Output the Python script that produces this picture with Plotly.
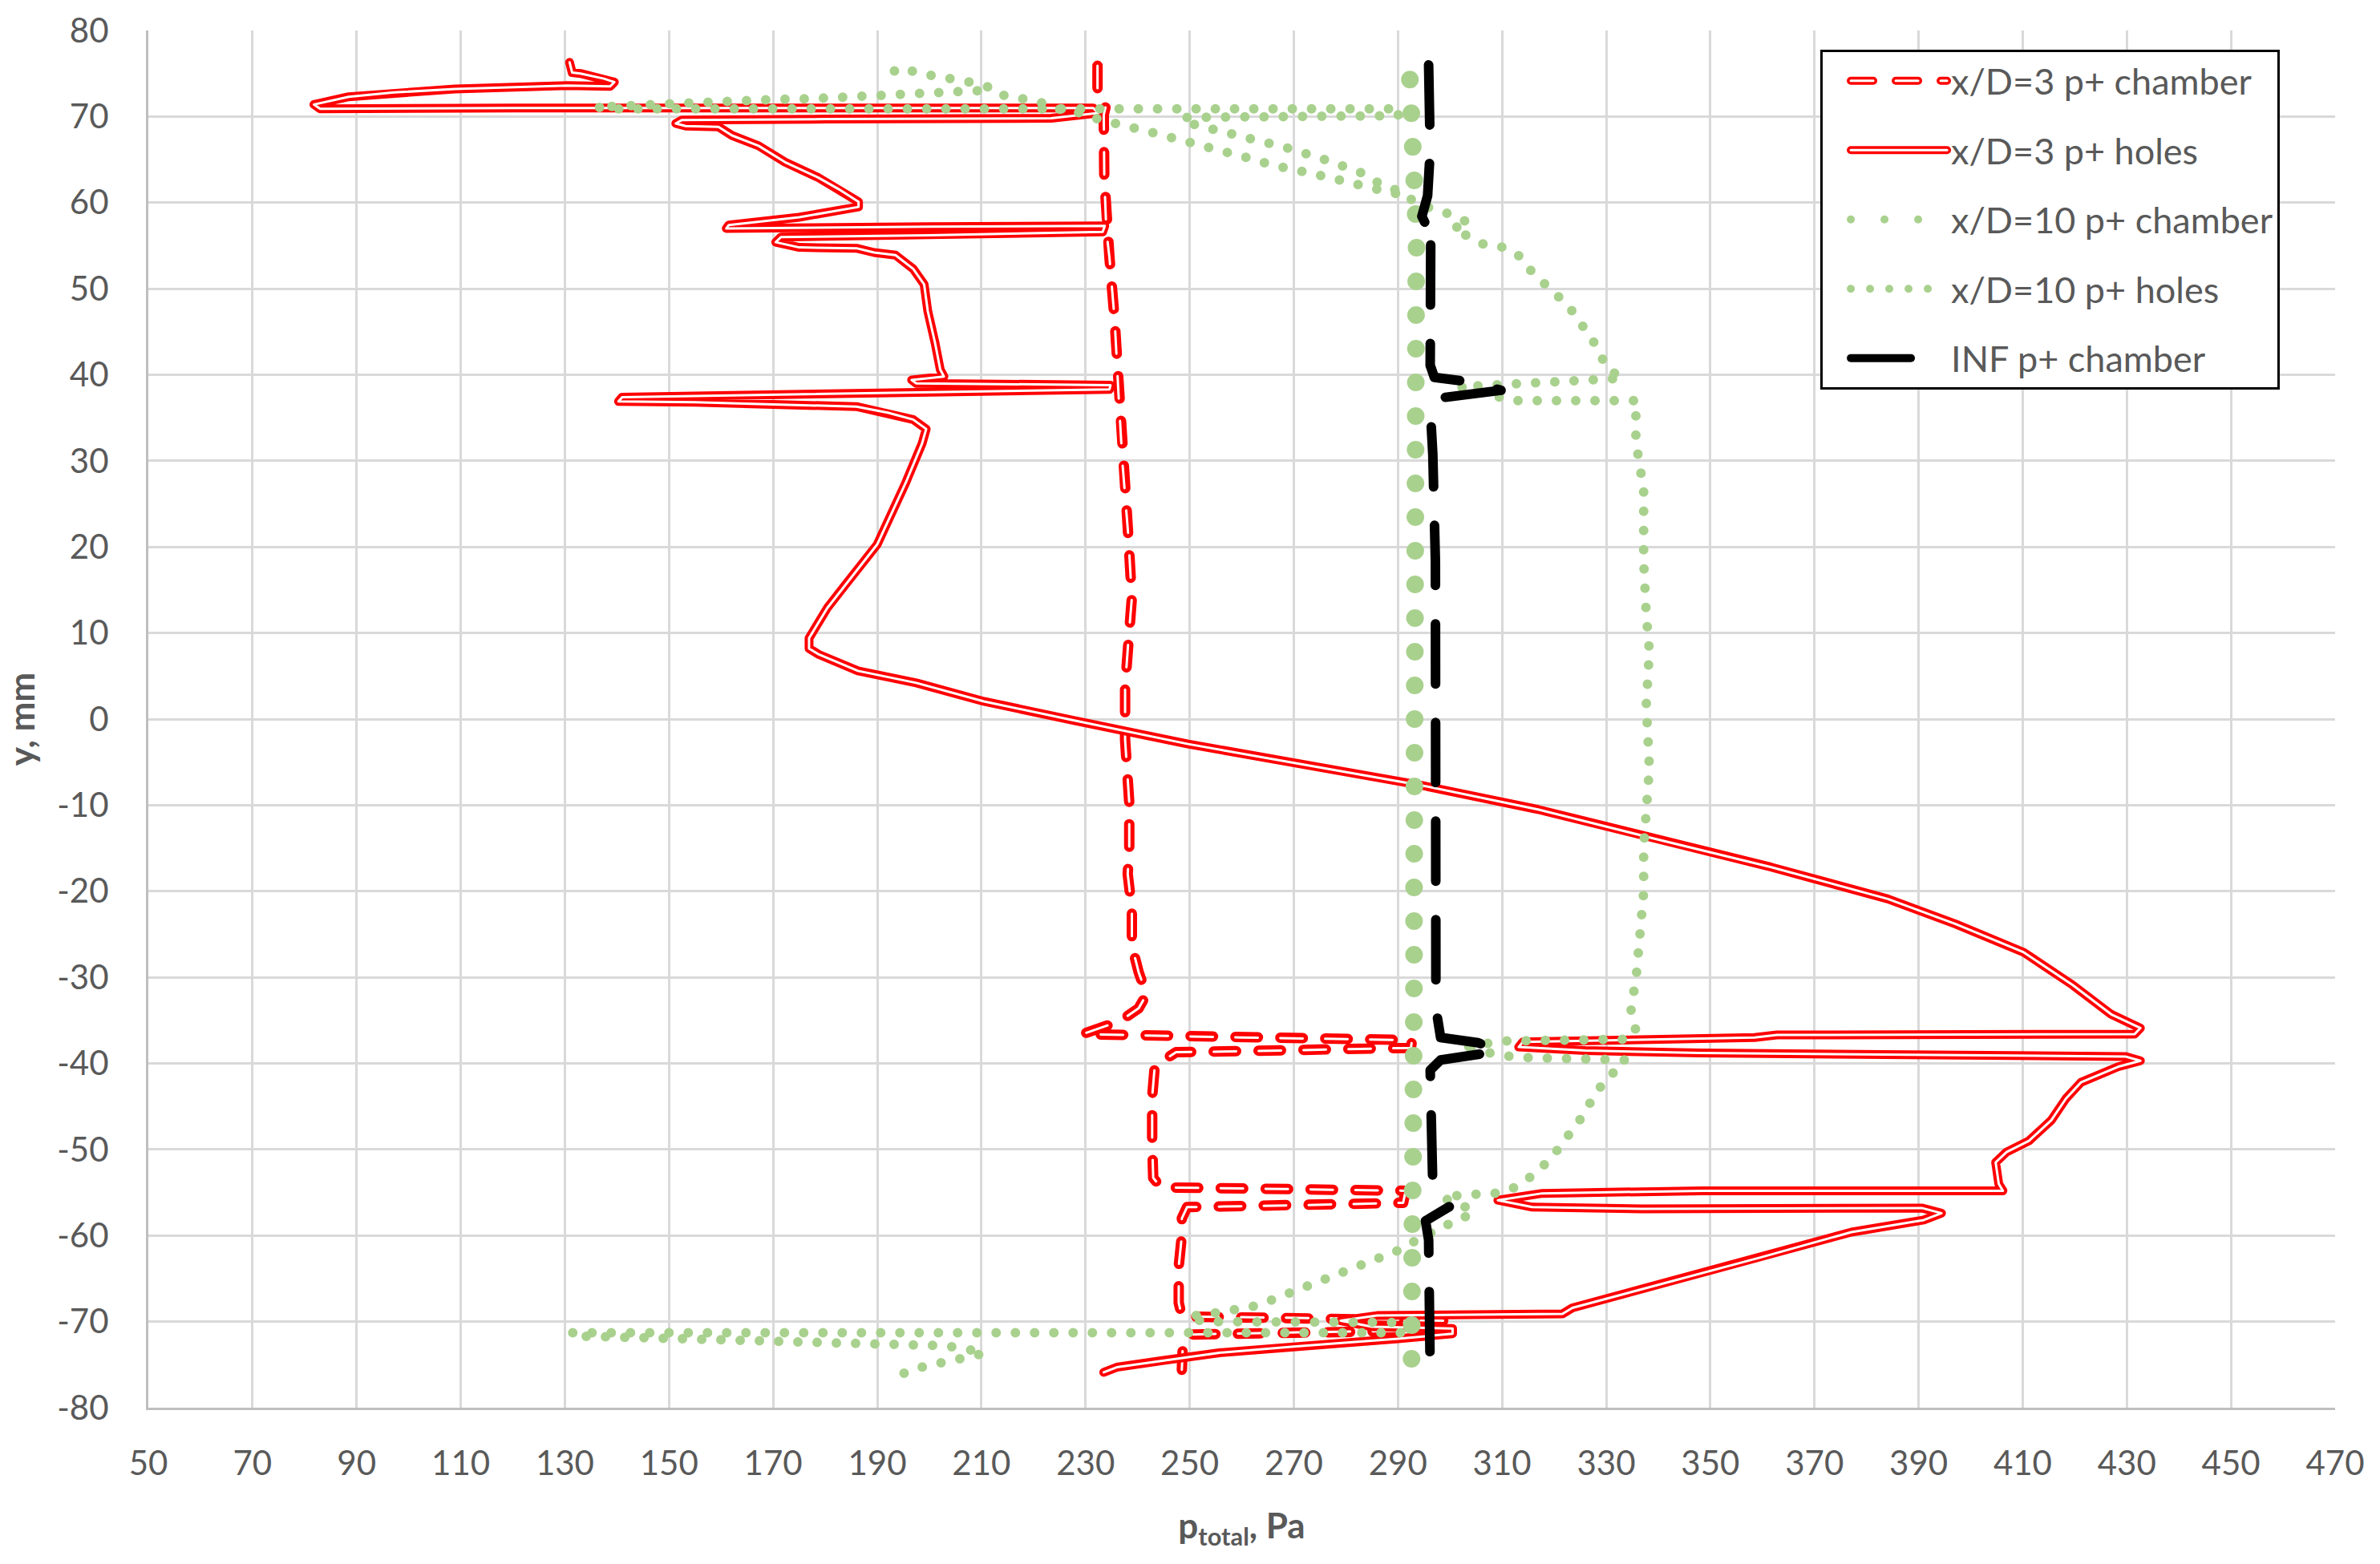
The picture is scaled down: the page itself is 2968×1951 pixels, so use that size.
import plotly.graph_objects as go

# ---- data ----
# x/D=3 p+ chamber (red dashed double line)
ch3_x = [232.3, 232.3, 234.0, 233.5, 233.6, 234.0, 234.6, 235.6, 236.4, 237.1, 238.2, 238.9, 238.2,
         237.6, 237.6, 238.4, 238.4, 238.1, 238.9, 238.9, 240.2, 241.7, 240.2, 236.6, 229.4, 260.0,
         292.7, 292.5, 260.0, 247.4, 243.3, 242.8, 242.8, 243.0, 244.5, 270.0, 291.5, 291.0, 270.0,
         249.5, 248.5, 248.5, 247.9, 247.9, 248.5, 275.0, 299.0, 300.0, 275.0, 250.0, 248.7, 248.5]
ch3_y = [75.9, 72.8, 71.5, 70.2, 62.9, 56.7, 53.6, 46.3, 37.0, 29.7, 21.4, 14.1, 8.9,
         3.8, -2.4, -9.7, -14.9, -18.0, -22.1, -26.3, -29.4, -32.0, -33.6, -35.1, -36.6, -37.0,
         -37.3, -38.2, -38.6, -38.7, -40.3, -43.9, -49.1, -53.3, -54.4, -54.6, -54.8, -56.2, -56.5,
         -56.7, -58.0, -60.0, -63.6, -67.8, -69.4, -69.6, -69.9, -71.0, -71.2, -71.5, -72.5, -75.6]

# x/D=3 p+ holes (red double line)
h3_x = [130.9, 131.4, 133.0, 137.5, 139.5, 138.7, 130.5, 108.9, 97.2, 88.5, 81.8, 83.0, 120.0,
        180.0, 231.5, 232.4, 223.4, 180.0, 152.5, 151.3, 153.2, 159.5, 162.1, 167.2, 172.3, 178.7,
        182.5, 186.4, 186.4, 175.0, 161.5, 161.0, 200.0, 233.7, 233.3, 200.0, 171.5, 170.5, 175.0,
        186.0, 189.4, 193.5, 196.9, 199.0, 199.7, 201.1, 202.1, 202.8, 196.6, 197.5, 234.8, 234.6,
        180.0, 141.0, 140.3, 155.0, 186.0, 192.0, 196.9, 199.4, 198.6, 195.5, 190.0, 184.4, 180.4,
        176.9, 176.9, 178.8, 186.3, 197.5, 210.5, 227.3, 249.7, 272.1, 294.5, 316.9, 339.3, 361.7,
        384.1, 397.1, 410.2, 419.6, 427.0, 432.6, 431.5, 362.8, 358.5, 314.0, 313.2, 326.0, 348.0,
        429.7, 432.6, 428.3, 421.2, 418.3, 415.5, 411.2, 406.9, 404.8, 405.4, 406.2, 348.5, 317.7,
        309.2, 315.8, 336.9, 390.6, 394.4, 391.0, 377.1, 359.9, 340.8, 323.5, 321.6, 300.0, 286.0,
        279.0, 285.0, 300.5, 300.5, 290.0, 270.0, 256.0, 245.0, 236.0, 233.5]
h3_y = [76.3, 75.1, 75.0, 74.4, 74.0, 73.5, 73.6, 73.2, 72.8, 72.3, 71.4, 70.9, 71.0,
        71.0, 71.0, 70.4, 69.8, 69.7, 69.6, 69.2, 68.9, 68.8, 67.8, 66.6, 64.7, 62.9,
        61.6, 60.1, 59.5, 58.3, 57.4, 57.0, 57.2, 57.3, 56.6, 56.2, 56.0, 55.4, 54.8,
        54.7, 54.2, 53.9, 52.3, 50.5, 47.4, 43.7, 40.6, 39.8, 39.4, 39.0, 38.8, 38.3,
        37.8, 37.4, 36.9, 36.8, 36.3, 35.6, 34.8, 33.7, 32.0, 27.5, 20.3, 16.0, 12.9,
        9.4, 8.2, 7.5, 5.6, 4.2, 2.05, -0.1, -2.9, -5.3, -7.7, -10.5, -13.9, -17.2,
        -20.9, -23.8, -27.1, -30.9, -34.3, -35.9, -36.6, -36.7, -37.0, -37.5, -38.1, -38.5, -38.8,
        -39.2, -39.7, -40.4, -42.2, -44.1, -46.6, -49.0, -50.3, -51.5, -54.0, -54.8, -54.8, -55.1,
        -55.9, -56.7, -56.9, -56.8, -57.4, -58.2, -59.6, -62.5, -65.6, -68.4, -69.1, -69.2, -69.3,
        -69.9, -70.6, -70.8, -71.4, -72.0, -72.9, -73.6, -74.5, -75.3, -75.9]

# x/D=10 p+ chamber (large green dots)
ch10_x = [292.3, 292.5, 292.8, 292.9, 293.0, 293.3, 293.6, 293.5, 293.4, 293.6, 293.7, 293.5, 293.4,
          293.4, 293.3, 293.2, 293.2, 293.1, 293.1, 293.2, 293.5, 293.2, 293.0, 292.9, 292.8, 292.6,
          292.5, 292.6, 292.6, 292.6]
ch10_y = [74.3, 72.0, 70.0, 66.0, 62.0, 58.0, 56.0, 50.0, 44.0, 40.0, 38.0, 34.0, 28.0,
          20.0, 10.0, 0.0, -10.0, -20.0, -30.0, -36.0, -38.0, -40.0, -46.0, -52.0, -56.0, -60.0,
          -66.0, -70.0, -72.0, -76.5]

# x/D=10 p+ holes (small green dots); None splits the two strokes
h10_x = [193.3, 195.0, 197.4, 200.8, 204.2, 208.7, 212.1, 213.2, 216.6, 221.1, 224.5, 228.5, 232.4,
         235.8, 239.7, 243.7, 247.1, 251.1, 254.4, 258.4, 261.8, 265.7, 269.1, 277.0, 284.9, 291.5,
         None,
         209.2, 201.3, 194.0, 186.1, 178.2, 171.2, 162.9, 154.4, 143.8, 136.0, 140.0, 180.0, 233.5,
         260.0, 290.6, 290.0, 270.0, 248.8, 248.8, 254.5, 261.8, 269.1, 276.5, 279.8, 283.3, 286.7,
         290.0, 294.0, 296.9, 300.3, 303.8, 300.5, 306.7, 310.5, 313.8, 315.2, 317.5, 319.5, 322.3,
         323.9, 325.9, 328.5, 330.0, 333.1, 316.0, 302.0, 312.0, 336.0, 335.7, 335.7, 337.2, 337.2,
         337.7, 338.3, 337.7, 338.3, 337.7, 337.2, 337.2, 336.7, 336.2, 335.7, 334.7, 335.7, 334.2,
         310.0, 302.0, 312.6, 333.6, 333.0, 330.5, 328.0, 324.9, 322.3, 320.7, 319.2, 315.2, 312.1,
         308.0, 303.4, 298.6, 303.4, 304.4, 301.5, 298.6, 294.8, 290.6, 283.5, 277.6, 269.9, 263.2,
         256.0, 249.8, 252.6, 270.0, 291.0, 292.9, 250.0, 200.0, 150.0, 131.0, 133.9, 155.0, 174.2,
         189.4, 202.8, 206.6, 210.5, 206.0, 202.8, 199.0, 195.2, 193.3]
h10_y = [75.3, 75.7, 75.1, 74.8, 74.4, 73.9, 73.3, 72.6, 72.2, 71.7, 70.9, 70.5, 69.7,
         69.1, 68.6, 68.0, 67.5, 66.9, 66.3, 65.7, 65.1, 64.4, 64.0, 62.9, 61.7, 60.8,
         None,
         73.0, 72.7, 72.5, 72.3, 72.1, 72.0, 71.9, 71.6, 71.3, 71.1, 70.9, 70.9, 70.9,
         70.9, 70.9, 70.1, 70.0, 69.9, 69.4, 68.6, 67.5, 66.3, 64.9, 64.3, 63.4, 62.1,
         61.4, 59.8, 59.3, 58.6, 57.6, 57.0, 55.1, 54.8, 53.6, 52.3, 51.0, 49.7, 48.4,
         46.8, 45.3, 43.0, 40.8, 39.6, 39.2, 38.6, 37.0, 37.0, 35.9, 32.3, 26.6, 18.3,
         12.1, 7.9, 1.7, -5.6, -10.7, -14.9, -20.1, -24.2, -28.4, -30.4, -33.6, -36.2, -37.2,
         -37.4, -38.2, -39.3, -39.6, -40.5, -41.4, -43.5, -46.6, -48.6, -49.6, -51.2, -53.3, -54.5,
         -55.2, -55.2, -55.6, -56.8, -57.6, -58.0, -59.1, -60.1, -61.6, -63.3, -64.7, -66.5, -68.1,
         -68.9, -69.4, -70.0, -70.0, -70.1, -71.3, -71.3, -71.3, -71.3, -71.3, -71.7, -72.0, -72.2,
         -72.5, -72.8, -73.1, -73.7, -74.3, -74.7, -75.2, -76.0, -76.2]

# INF p+ chamber (black long dash)
inf_x = [295.9, 295.9, 296.2, 295.7, 294.6, 295.5, 298.5, 296.3, 296.2, 296.2, 297.0, 303.6, 309.8,
         298.0, 296.2, 296.7, 297.2, 297.2, 297.2, 297.2, 297.3, 298.2, 305.4, 309.3, 298.2, 296.2,
         296.5, 296.7, 300.0, 295.3, 295.9, 296.0, 296.2, 296.2]
inf_y = [76.0, 72.3, 66.0, 60.8, 58.4, 57.3, 56.3, 55.4, 48.0, 41.1, 39.7, 39.2, 38.2,
         37.3, 36.2, 30.8, 18.3, 0.0, -12.9, -28.4, -33.6, -37.0, -37.6, -38.6, -39.6, -40.8,
         -48.0, -54.3, -56.6, -58.3, -60.5, -66.0, -71.7, -76.0]

x_ticks = [50, 70, 90, 110, 130, 150, 170, 190, 210, 230, 250, 270, 290, 310, 330, 350, 370, 390,
           410, 430, 450, 470]
y_ticks = [-80, -70, -60, -50, -40, -30, -20, -10, 0, 10, 20, 30, 40, 50, 60, 70, 80]

names = ["x/D=3 p+ chamber", "x/D=3 p+ holes", "x/D=10 p+ chamber", "x/D=10 p+ holes",
         "INF p+ chamber"]

RED = "#FF0000"
GREEN = "#A9D18E"
TXT = "#595959"

fig = go.Figure()

# red chamber: red dash with a thin white core
fig.add_trace(go.Scatter(x=ch3_x, y=ch3_y, mode="lines", name=names[0], legendgroup="g0",
                         line=dict(color=RED, width=13, dash="28px,28px")))
fig.add_trace(go.Scatter(x=ch3_x, y=ch3_y, mode="lines", showlegend=False, legendgroup="g0",
                         hoverinfo="skip", line=dict(color="white", width=3, dash="28px,28px")))
# red holes: double line
fig.add_trace(go.Scatter(x=h3_x, y=h3_y, mode="lines", name=names[1], legendgroup="g1",
                         line=dict(color=RED, width=11)))
fig.add_trace(go.Scatter(x=h3_x, y=h3_y, mode="lines", showlegend=False, legendgroup="g1",
                         hoverinfo="skip", line=dict(color="white", width=3)))
fig.add_trace(go.Scatter(x=ch10_x, y=ch10_y, mode="lines", name=names[2], legendgroup="g2",
                         line=dict(color=GREEN, width=22, dash="0px,42px")))
fig.add_trace(go.Scatter(x=h10_x, y=h10_y, mode="lines", name=names[3], legendgroup="g3",
                         line=dict(color=GREEN, width=12, dash="0px,24px")))
fig.add_trace(go.Scatter(x=inf_x, y=inf_y, mode="lines", name=names[4], legendgroup="g4",
                         line=dict(color="black", width=12, dash="75px,48px")))

fig.update_xaxes(range=[50, 470], tickvals=x_ticks, ticktext=[str(v) for v in x_ticks],
                 showgrid=True, gridcolor="#D9D9D9", gridwidth=3, zeroline=False,
                 showline=True, linecolor="#BFBFBF", linewidth=3, ticks="",
                 ticklabelstandoff=31, tickfont=dict(size=42, color=TXT),
                 title=dict(text="<b>p<sub>total</sub>, Pa</b>", font=dict(size=44, color=TXT),
                            standoff=40))
fig.update_yaxes(range=[-80, 80], tickvals=y_ticks, ticktext=[str(v) for v in y_ticks],
                 showgrid=True, gridcolor="#D9D9D9", gridwidth=3, zeroline=False,
                 showline=True, linecolor="#BFBFBF", linewidth=3, ticks="",
                 ticklabelstandoff=38, tickfont=dict(size=42, color=TXT),
                 title=dict(text="<b>y, mm</b>", font=dict(size=44, color=TXT), standoff=28))

fig.update_layout(width=2968, height=1951,
                  margin=dict(l=185, r=56, t=36, b=195),
                  paper_bgcolor="white", plot_bgcolor="white",
                  font=dict(family="Lato, Open Sans, sans-serif", color=TXT),
                  legend=dict(x=0.7646, y=0.986, xanchor="left", yanchor="top",
                              bgcolor="white", bordercolor="black", borderwidth=3,
                              font=dict(size=45, color=TXT), itemwidth=120, indentation=30,
                              traceorder="grouped", tracegroupgap=25),
                  showlegend=True)

# round caps make the dash patterns look like the Excel round dots / rounded dashes,
# and the two red legend samples get their white core
post = """
document.body.style.margin = '0';
var gd = document.getElementById('{plot_id}');
function fixLines() {
  gd.querySelectorAll('.js-line').forEach(function (p) {
    p.style.strokeLinecap = 'round';
    p.style.strokeLinejoin = 'round';
  });
  var items = gd.querySelectorAll('.legend .traces');
  [0, 1].forEach(function (i) {
    if (!items[i]) return;
    var p = items[i].querySelector('.js-line');
    if (!p || items[i].querySelector('.white-core')) return;
    var c = p.cloneNode(true);
    c.classList.add('white-core');
    c.style.stroke = '#ffffff';
    c.style.strokeWidth = '3px';
    p.parentNode.appendChild(c);
  });
}
fixLines();
gd.on('plotly_afterplot', fixLines);
"""

fig.write_html("out.html", post_script=post, config={"displayModeBar": False})
